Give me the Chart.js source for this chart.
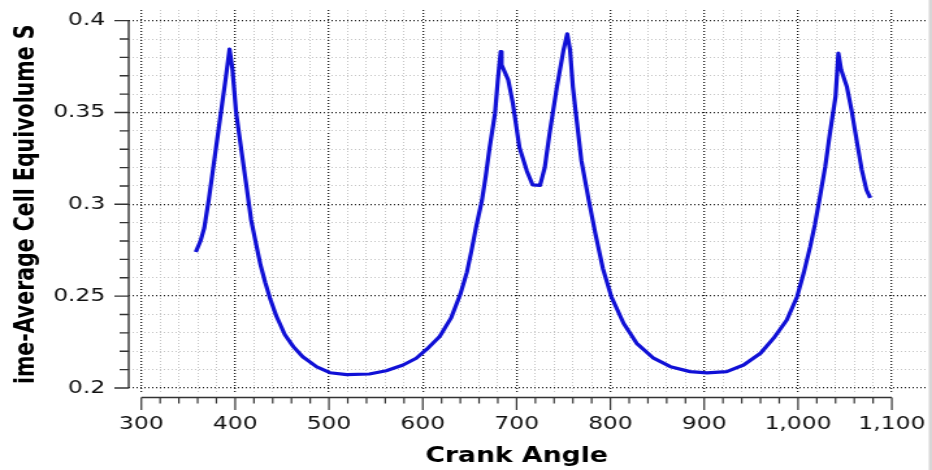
<!DOCTYPE html>
<html>
<head>
<meta charset="utf-8">
<script src="https://cdn.jsdelivr.net/npm/chart.js@4.4.1/dist/chart.umd.min.js"></script>
<style>
  html, body { margin: 0; padding: 0; background: #fff; overflow: hidden; }
  /* the reference is a horizontally stretched screenshot, so draw narrow and stretch */
  #wrap { width: 717px; height: 470px; transform: scaleX(1.2999); transform-origin: 0 0; }
</style>
</head>
<body>
<div id="wrap"><canvas id="myChart" width="717" height="470"></canvas></div>
<script>
// values
var crankAngle = [358, 363, 367, 372, 378, 384, 390, 394, 397, 401, 407, 412, 417, 422, 427, 432, 437, 444, 453, 462, 472,
  487, 501, 519, 543, 561, 579, 593, 604, 618, 630, 640, 647, 652, 657, 663, 667, 671, 677, 680, 683,
  684, 691, 696, 703, 711, 717, 725, 730, 735, 743, 750, 754, 757, 760, 764, 769, 777, 784, 792, 801,
  814, 828, 846, 864, 885, 903, 924, 942, 960, 974, 988, 999, 1006, 1013, 1018, 1023, 1029, 1034, 1040, 1043,
  1046, 1052, 1057, 1063, 1068, 1073, 1077];
var equivolume = [0.274, 0.280, 0.287, 0.303, 0.325, 0.347, 0.369, 0.3845, 0.374, 0.350, 0.328, 0.310, 0.2915, 0.279, 0.267, 0.2575, 0.249, 0.239, 0.229, 0.2225, 0.217,
  0.2115, 0.2083, 0.2073, 0.2076, 0.2094, 0.2125, 0.2162, 0.221, 0.228, 0.238, 0.251, 0.263, 0.275, 0.288, 0.302, 0.315, 0.330, 0.3496, 0.3678, 0.3832,
  0.376, 0.3678, 0.355, 0.331, 0.318, 0.3106, 0.3103, 0.320, 0.338, 0.364, 0.384, 0.3928, 0.384, 0.364, 0.346, 0.324, 0.302, 0.284, 0.265, 0.2497,
  0.2352, 0.2243, 0.2162, 0.2116, 0.2089, 0.2082, 0.2089, 0.2125, 0.2189, 0.2271, 0.237, 0.2497, 0.2625, 0.277, 0.289, 0.303, 0.3205, 0.3387, 0.3587, 0.3823,
  0.3732, 0.3641, 0.3514, 0.3333, 0.3187, 0.3078, 0.3035];
var xTickLabels = [300, 400, 500, 600, 700, 800, 900, 1000, 1100];
var yTickLabels = [0.2, 0.25, 0.3, 0.35, 0.4];
var xTitle = "Crank Angle";
var yTitle = "ime-Average Cell Equivolume S";

var FONT = "'DejaVu Sans', Verdana, sans-serif";

function isMajorX(v) { return xTickLabels.indexOf(v) >= 0; }
function isMajorY(v) { return yTickLabels.some(function (t) { return Math.abs(t - v) < 1e-9; }); }

// minor grid every 20 deg / 0.01
function xGridValues() {
  var out = [];
  for (var v = xTickLabels[0]; v <= xTickLabels[xTickLabels.length - 1]; v += 20) out.push(v);
  return out;
}
function yGridValues() {
  var out = [];
  for (var i = 20; i <= 40; i++) out.push(i / 100);
  return out;
}

// no extra room for overhanging labels, the area is placed by hand
function noPadding(scale) {
  scale.paddingLeft = 0;
  scale.paddingRight = 0;
  scale.paddingTop = 0;
  scale.paddingBottom = 0;
}

var points = crankAngle.map(function (a, i) { return { x: a, y: equivolume[i] }; });

// axis lines, tick marks and titles like the original tool draws them
var axesPlugin = {
  id: "axesPlugin",
  afterDraw: function (chart) {
    var ctx = chart.ctx;
    var x = chart.scales.x, y = chart.scales.y;
    var left = chart.chartArea.left;
    var axisY = 397.5;
    ctx.save();
    ctx.strokeStyle = "#333";
    ctx.lineWidth = 1.4;
    // y axis
    ctx.beginPath();
    ctx.moveTo(left, y.getPixelForValue(0.4));
    ctx.lineTo(left, y.getPixelForValue(0.2));
    yGridValues().forEach(function (v) {
      var py = y.getPixelForValue(v);
      ctx.moveTo(left - (isMajorY(v) ? 11 : 7), py);
      ctx.lineTo(left, py);
    });
    ctx.stroke();
    // x axis
    ctx.beginPath();
    ctx.moveTo(x.getPixelForValue(300), axisY);
    ctx.lineTo(x.getPixelForValue(1100), axisY);
    ctx.stroke();
    ctx.lineWidth = 1.2;
    ctx.beginPath();
    xGridValues().forEach(function (v) {
      var px = x.getPixelForValue(v);
      ctx.moveTo(px, axisY);
      ctx.lineTo(px, axisY + (isMajorX(v) ? 12.5 : 6));
    });
    ctx.stroke();

    // titles
    ctx.fillStyle = "#000";
    ctx.font = "bold 20.5px " + FONT;
    ctx.textAlign = "center";
    ctx.textBaseline = "alphabetic";
    ctx.fillText(xTitle, (x.getPixelForValue(300) + x.getPixelForValue(1100)) / 2, 461.5);
    ctx.translate(25.5, (y.getPixelForValue(0.2) + y.getPixelForValue(0.4)) / 2);
    ctx.rotate(-Math.PI / 2);
    ctx.fillText(yTitle, 0, 0);
    ctx.restore();

    // window edge on the right
    ctx.save();
    ctx.fillStyle = "#d6d6d6";
    ctx.fillRect(714.5, 0, 2.5, 470);
    ctx.restore();
  }
};

var ctx = document.getElementById("myChart").getContext("2d");
var myChart = new Chart(ctx, {
  type: "line",
  data: {
    datasets: [
      {
        label: "Equivolume",
        data: points,
        borderColor: "#1010d6",
        borderWidth: 3.2,
        borderJoinStyle: "round",
        pointRadius: 0,
        fill: false,
        tension: 0,
      },
    ],
  },
  options: {
    responsive: false,
    animation: false,
    devicePixelRatio: 1,
    layout: { padding: { left: 0, right: 3, top: 10, bottom: 0 } },
    plugins: { legend: { display: false }, tooltip: { enabled: false } },
    scales: {
      x: {
        type: "linear",
        min: 286.5,
        max: 1138.7,
        afterBuildTicks: function (scale) {
          scale.ticks = xGridValues().map(function (v) { return { value: v }; });
        },
        afterFit: function (scale) { scale.height = 78; noPadding(scale); },
        grid: {
          drawTicks: false,
          color: function (c) { return isMajorX(c.tick.value) ? "#1a1a1a" : "#c4c4c4"; },
          lineWidth: function (c) { return isMajorX(c.tick.value) ? 1.3 : 1; },
        },
        border: { display: false, dash: [1, 2] },
        ticks: {
          autoSkip: false,
          maxRotation: 0,
          padding: 22,
          color: "#111",
          font: { family: FONT, size: 18 },
          callback: function (v) { return isMajorX(v) ? v.toLocaleString("en-US") : ""; },
        },
      },
      y: {
        type: "linear",
        min: 0.1978,
        max: 0.4058,
        afterBuildTicks: function (scale) {
          scale.ticks = yGridValues().map(function (v) { return { value: v }; });
        },
        afterFit: function (scale) { scale.width = 99; noPadding(scale); },
        grid: {
          drawTicks: false,
          color: function (c) { return isMajorY(c.tick.value) ? "#1a1a1a" : "#c4c4c4"; },
          lineWidth: function (c) { return isMajorY(c.tick.value) ? 1.3 : 1; },
        },
        border: { display: false, dash: [1, 2] },
        ticks: {
          autoSkip: false,
          padding: 18,
          color: "#111",
          font: { family: FONT, size: 18 },
          callback: function (v) { return isMajorY(v) ? String(+v.toFixed(2)) : ""; },
        },
      },
    },
  },
  plugins: [axesPlugin],
});
</script>
</body>
</html>
